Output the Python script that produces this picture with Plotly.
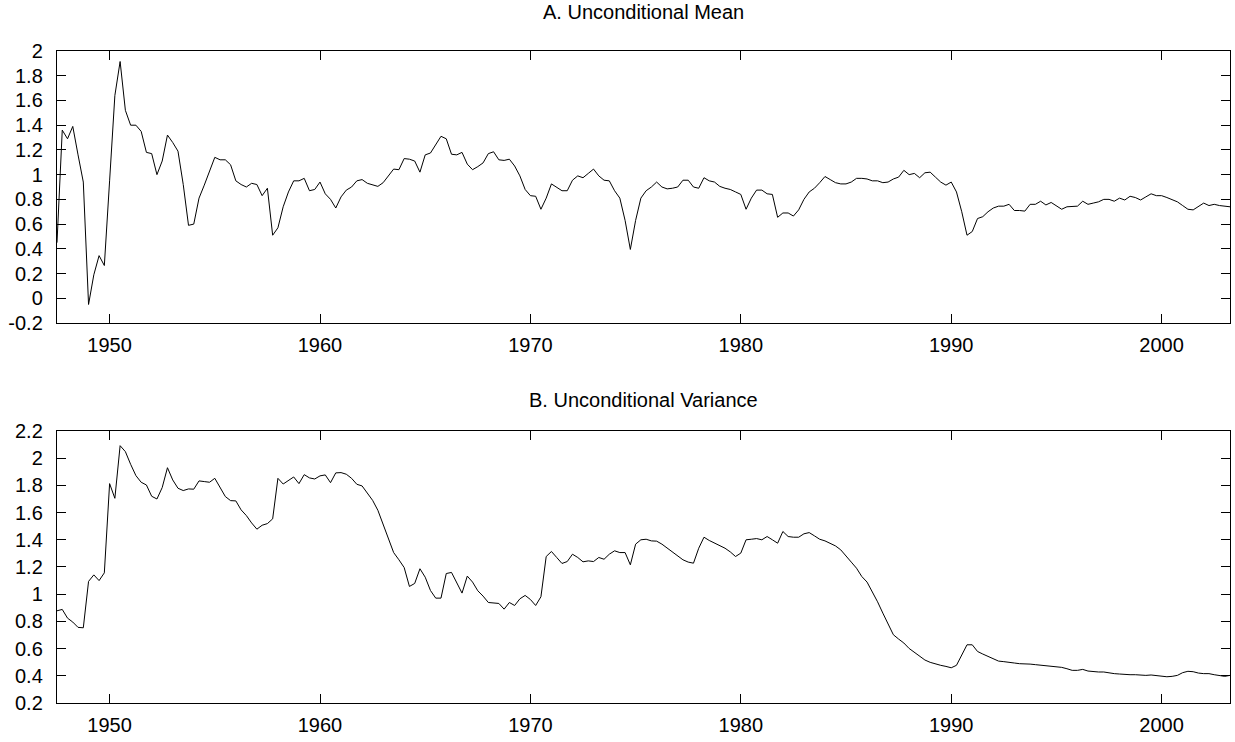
import plotly.graph_objects as go

# Quarterly observations, 1947Q3 .. 2003Q2 (x positions in fractional years)
start_year = 1947.5

mean_vals = [
    0.45, 1.36,                      # 1947 (Q3,Q4)
    1.29, 1.39, 1.16, 0.94,          # 1948
    -0.05, 0.19, 0.345, 0.265,       # 1949
    0.95, 1.64, 1.915, 1.52,         # 1950
    1.40, 1.40, 1.35, 1.18,          # 1951
    1.17, 1.00, 1.11, 1.32,          # 1952
    1.26, 1.19, 0.92, 0.59,          # 1953
    0.60, 0.81, 0.915, 1.02,         # 1954
    1.14, 1.12, 1.12, 1.08,          # 1955
    0.95, 0.92, 0.90, 0.93,          # 1956
    0.92, 0.83, 0.89, 0.51,          # 1957
    0.57, 0.74, 0.86, 0.95,          # 1958
    0.95, 0.97, 0.87, 0.88,          # 1959
    0.94, 0.845, 0.80, 0.73,         # 1960
    0.82, 0.875, 0.90, 0.95,         # 1961
    0.96, 0.93, 0.915, 0.905,        # 1962
    0.935, 0.99, 1.045, 1.04,        # 1963
    1.13, 1.125, 1.11, 1.02,         # 1964
    1.16, 1.175, 1.245, 1.31,        # 1965
    1.29, 1.165, 1.16, 1.18,         # 1966
    1.085, 1.04, 1.065, 1.095,       # 1967
    1.17, 1.185, 1.12, 1.115,        # 1968
    1.125, 1.07, 0.99, 0.88,         # 1969
    0.83, 0.825, 0.72, 0.81,         # 1970
    0.925, 0.895, 0.87, 0.87,        # 1971
    0.955, 0.99, 0.975, 1.01,        # 1972
    1.045, 0.99, 0.955, 0.95,        # 1973
    0.87, 0.81, 0.63, 0.395,         # 1974
    0.63, 0.81, 0.87, 0.90,          # 1975
    0.94, 0.90, 0.885, 0.89,         # 1976
    0.90, 0.955, 0.955, 0.90,        # 1977
    0.89, 0.975, 0.95, 0.94,         # 1978
    0.905, 0.89, 0.88, 0.86,         # 1979
    0.84, 0.72, 0.81, 0.875,         # 1980
    0.875, 0.845, 0.84, 0.655,       # 1981
    0.69, 0.69, 0.665, 0.715,        # 1982
    0.80, 0.86, 0.89, 0.935,         # 1983
    0.985, 0.96, 0.935, 0.925,       # 1984
    0.925, 0.94, 0.97, 0.97,         # 1985
    0.965, 0.95, 0.95, 0.935,        # 1986
    0.94, 0.965, 0.98, 1.035,        # 1987
    1.00, 1.01, 0.975, 1.015,        # 1988
    1.02, 0.98, 0.94, 0.915,         # 1989
    0.94, 0.86, 0.70, 0.51,          # 1990
    0.54, 0.645, 0.66, 0.70,         # 1991
    0.73, 0.745, 0.745, 0.76,        # 1992
    0.71, 0.71, 0.705, 0.76,         # 1993
    0.76, 0.785, 0.755, 0.775,       # 1994
    0.745, 0.72, 0.74, 0.745,        # 1995
    0.745, 0.785, 0.76, 0.77,        # 1996
    0.78, 0.80, 0.80, 0.785,         # 1997
    0.81, 0.795, 0.825, 0.815,       # 1998
    0.795, 0.82, 0.845, 0.83,        # 1999
    0.83, 0.815, 0.795, 0.78,        # 2000
    0.75, 0.72, 0.715, 0.745,        # 2001
    0.77, 0.75, 0.76, 0.75,          # 2002
    0.745, 0.74,                     # 2003 (Q1,Q2)
]

var_vals = [
    0.878, 0.888,                    # 1947
    0.824, 0.795, 0.756, 0.753,      # 1948
    1.094, 1.142, 1.10, 1.157,       # 1949
    1.813, 1.705, 2.092, 2.048,      # 1950
    1.955, 1.872, 1.823, 1.803,      # 1951
    1.72, 1.70, 1.784, 1.93,         # 1952
    1.84, 1.779, 1.762, 1.774,       # 1953
    1.772, 1.833, 1.828, 1.823,      # 1954
    1.852, 1.784, 1.718, 1.688,      # 1955
    1.686, 1.62, 1.578, 1.524,       # 1956
    1.478, 1.507, 1.519, 1.554,      # 1957
    1.852, 1.81, 1.835, 1.862,       # 1958
    1.813, 1.879, 1.855, 1.847,      # 1959
    1.87, 1.877, 1.82, 1.892,        # 1960
    1.894, 1.882, 1.852, 1.808,      # 1961
    1.796, 1.747, 1.69, 1.617,       # 1962
    1.517, 1.412, 1.306, 1.253,      # 1963
    1.196, 1.057, 1.079, 1.187,      # 1964
    1.125, 1.027, 0.971, 0.971,      # 1965
    1.152, 1.16, 1.084, 1.008,       # 1966
    1.133, 1.089, 1.025, 0.986,      # 1967
    0.939, 0.937, 0.932, 0.89,       # 1968
    0.939, 0.917, 0.966, 0.991,      # 1969
    0.961, 0.917, 0.981, 1.277,      # 1970
    1.314, 1.27, 1.226, 1.24,        # 1971
    1.294, 1.27, 1.238, 1.245,       # 1972
    1.24, 1.27, 1.257, 1.294,        # 1973
    1.319, 1.306, 1.306, 1.216,      # 1974
    1.368, 1.40, 1.404, 1.392,       # 1975
    1.39, 1.368, 1.338, 1.309,       # 1976
    1.277, 1.253, 1.236, 1.228,      # 1977
    1.338, 1.419, 1.395, 1.375,      # 1978
    1.358, 1.338, 1.311, 1.277,      # 1979
    1.302, 1.40, 1.404, 1.409,       # 1980
    1.40, 1.424, 1.40, 1.375,        # 1981
    1.461, 1.424, 1.419, 1.419,      # 1982
    1.444, 1.453, 1.429, 1.404,      # 1983
    1.392, 1.375, 1.355, 1.326,      # 1984
    1.277, 1.236, 1.191, 1.130,      # 1985
    1.089, 1.020, 0.944, 0.861,      # 1986
    0.780, 0.702, 0.670, 0.641,      # 1987
    0.601, 0.572, 0.543, 0.516,      # 1988
    0.499, 0.486, 0.477, 0.469,      # 1989
    0.459, 0.477, 0.552, 0.628,      # 1990
    0.628, 0.579, 0.56, 0.543,       # 1991
    0.523, 0.508, 0.504, 0.501,      # 1992
    0.494, 0.489, 0.489, 0.486,      # 1993
    0.482, 0.479, 0.474, 0.469,      # 1994
    0.467, 0.462, 0.452, 0.44,       # 1995
    0.44, 0.447, 0.435, 0.43,        # 1996
    0.428, 0.428, 0.42, 0.416,       # 1997
    0.413, 0.408, 0.408, 0.408,      # 1998
    0.403, 0.403, 0.406, 0.403,      # 1999
    0.398, 0.393, 0.396, 0.403,      # 2000
    0.423, 0.433, 0.43, 0.42,        # 2001
    0.416, 0.416, 0.408, 0.401,      # 2002
    0.396, 0.403,                    # 2003
]

dates = [start_year + 0.25 * i for i in range(len(mean_vals))]

x_ticks = [1950, 1960, 1970, 1980, 1990, 2000]
y1_ticks = [-0.2, 0, 0.2, 0.4, 0.6, 0.8, 1, 1.2, 1.4, 1.6, 1.8, 2]
y1_labels = ["-0.2", "0", "0.2", "0.4", "0.6", "0.8", "1", "1.2", "1.4", "1.6", "1.8", "2"]
y2_ticks = [0.2, 0.4, 0.6, 0.8, 1, 1.2, 1.4, 1.6, 1.8, 2, 2.2]
y2_labels = ["0.2", "0.4", "0.6", "0.8", "1", "1.2", "1.4", "1.6", "1.8", "2", "2.2"]

title_a = "A. Unconditional Mean"
title_b = "B. Unconditional Variance"

FONT = "Liberation Sans, Arial, sans-serif"

fig = go.Figure()
fig.add_trace(go.Scatter(x=dates, y=mean_vals, mode="lines",
                         line=dict(color="black", width=1), xaxis="x", yaxis="y",
                         showlegend=False))
fig.add_trace(go.Scatter(x=dates, y=var_vals, mode="lines",
                         line=dict(color="black", width=1), xaxis="x2", yaxis="y2",
                         showlegend=False))

axis_common = dict(showline=True, linecolor="black", linewidth=1.4, mirror="ticks",
                   ticks="inside", ticklen=9, tickwidth=1.4, tickcolor="black",
                   showgrid=False, zeroline=False,
                   tickfont=dict(family=FONT, size=20, color="black"))

top_dom = [0.5828, 1.0]
bot_dom = [0.0, 0.4172]

fig.update_layout(
    width=1235, height=742,
    margin=dict(l=57, r=5, t=51, b=39),
    paper_bgcolor="white", plot_bgcolor="white",
    xaxis=dict(domain=[0, 1], anchor="y", range=[1947.5, 2003.25],
               tickvals=x_ticks, ticklabelstandoff=4, **axis_common),
    yaxis=dict(domain=top_dom, anchor="x", range=[-0.2, 2.0],
               tickvals=y1_ticks, ticktext=y1_labels, ticklabelstandoff=9, **axis_common),
    xaxis2=dict(domain=[0, 1], anchor="y2", range=[1947.5, 2003.25],
                tickvals=x_ticks, ticklabelstandoff=4, **axis_common),
    yaxis2=dict(domain=bot_dom, anchor="x2", range=[0.2, 2.2],
                tickvals=y2_ticks, ticktext=y2_labels, ticklabelstandoff=9, **axis_common),
    annotations=[
        dict(text=title_a, xref="paper", yref="paper", x=0.5, y=1.06,
             xanchor="center", yanchor="middle", showarrow=False,
             font=dict(family=FONT, size=20, color="black")),
        dict(text=title_b, xref="paper", yref="paper", x=0.5, y=0.4647,
             xanchor="center", yanchor="middle", showarrow=False,
             font=dict(family=FONT, size=20, color="black")),
    ],
)

fig.write_html("out.html")
